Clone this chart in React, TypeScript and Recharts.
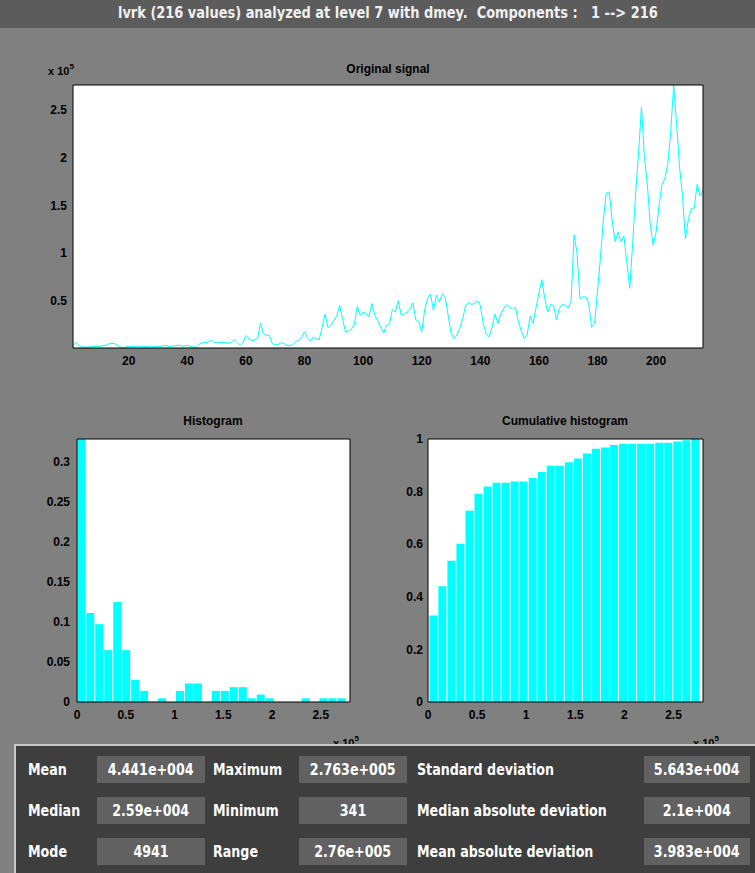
import React from 'react'
import { LineChart, Line, BarChart, Bar, XAxis, YAxis } from 'recharts'

// lvrk signal, 216 samples, in thousands
const SIGNAL_K = [
  3, 6, 3, 1.5, 1.2, 1.5, 1.5, 2, 2, 2,
  2.5, 3, 4.5, 5, 5, 3.5, 1.5, 0.341, 1.5, 2,
  2, 2, 2.5, 2, 2, 1.5, 2.5, 2, 1.5, 2,
  2, 3, 2.5, 2, 2.5, 2.5, 3.5, 2.5, 2.5, 3,
  2, 1.5, 1, 4, 6, 6, 6.5, 8.4, 6.5, 6,
  6, 6, 6, 5, 6.5, 9, 6, 3, 6, 13.6,
  10, 8, 9, 11, 26.5, 15, 14, 13.5, 5, 3.5,
  4, 6, 5, 3, 3, 4, 7, 8.5, 11, 17.5,
  11, 7.5, 11.5, 10, 9, 22, 35.7, 22, 24, 29,
  34, 45, 31, 17, 18, 20, 25, 44, 35, 38,
  36, 33, 47, 35, 29, 22, 16, 24, 25.6, 40.6,
  38, 50, 35, 36, 38, 41, 47.5, 30, 28, 17,
  40, 52, 57, 40, 55.6, 48.6, 57, 54, 35, 16,
  10, 14, 21, 31, 45, 48, 46, 47, 50, 45,
  26, 15, 12, 22, 36, 26, 36, 42, 46, 43,
  41, 43, 28, 18, 10, 14, 34, 26, 42, 58,
  72, 52, 38, 46, 45, 30, 42, 46, 45, 42,
  50, 119, 100, 52, 54, 54, 47, 22, 26, 60,
  95, 135, 163, 164, 134, 112, 122, 112, 118, 90,
  63, 110, 162, 204, 253, 201, 172, 130, 108, 122,
  150, 172, 178, 194, 228, 276.3, 235, 190, 160, 115,
  135, 147, 147, 172, 160, 166,
]

const N_VALUES = 216
const SIGNAL_MIN = 341
const SIGNAL_MAX = 276300
const N_BINS = 30

// counts per bin (30 bins between min and max)
const HIST_COUNTS = [71, 24, 21, 14, 27, 14, 6, 3, 0, 1, 0, 3, 5, 5, 0, 3, 3, 4, 4, 1, 2, 1, 0, 0, 0, 1, 0, 1, 1, 1]
const CUM_COUNTS = [71, 95, 116, 130, 157, 171, 177, 180, 180, 181, 181, 184, 189, 194, 194, 197, 200, 204, 208, 209, 211, 212, 212, 212, 212, 213, 213, 214, 215, 216]

const SIGNAL_X_TICKS = [20, 40, 60, 80, 100, 120, 140, 160, 180, 200]
const SIGNAL_Y_TICKS = [50000, 100000, 150000, 200000, 250000]
const HIST_X_TICKS = [0, 50000, 100000, 150000, 200000, 250000]
const HIST_Y_TICKS = [0, 0.05, 0.1, 0.15, 0.2, 0.25, 0.3]
const CUM_Y_TICKS = [0, 0.2, 0.4, 0.6, 0.8, 1]

const STAT_LABELS = [
  ['Mean', 'Maximum', 'Standard deviation'],
  ['Median', 'Minimum', 'Median absolute deviation'],
  ['Mode', 'Range', 'Mean absolute deviation'],
]
const STAT_VALUES = [
  ['4.441e+004', '2.763e+005', '5.643e+004'],
  ['2.59e+004', '341', '2.1e+004'],
  ['4941', '2.76e+005', '3.983e+004'],
]

const TITLE = 'lvrk (216 values) analyzed at level 7 with dmey.  Components :   1 --> 216'

const signalData = SIGNAL_K.map((v, i) => ({ n: i + 1, value: v * 1000 }))
const binWidth = (SIGNAL_MAX - SIGNAL_MIN) / N_BINS
const histData = HIST_COUNTS.map((c, k) => ({
  center: SIGNAL_MIN + (k + 0.5) * binWidth,
  freq: c / N_VALUES,
  cum: CUM_COUNTS[k] / N_VALUES,
}))

const CYAN = '#00ffff'
const NARROW = '"Liberation Sans Narrow", "DejaVu Sans Condensed", "Liberation Sans", sans-serif'
const tickFont = { fill: '#000', fontSize: 12, fontWeight: 700, fontFamily: '"Liberation Sans", Arial, sans-serif' }
const e5 = (v: number) => String(v / 1e5)
const black = { stroke: '#000', strokeWidth: 1 }

const abs = (left: number, top: number, extra: React.CSSProperties = {}): React.CSSProperties => ({
  position: 'absolute', left, top, ...extra,
})

// condensed bold text used by the title strip and the statistics panel
function Narrow({ children, origin, sx = 0.88 }: { children: React.ReactNode; origin: string; sx?: number }) {
  return (
    <span style={{ display: 'inline-block', transform: `scaleX(${sx})`, transformOrigin: origin, fontFamily: NARROW, fontWeight: 700 }}>
      {children}
    </span>
  )
}

// white axes background sitting under the transparent svg
function PlotBg({ left, top, width, height }: { left: number; top: number; width: number; height: number }) {
  return <div style={abs(left, top, { width, height, background: '#fff' })} />
}

function Exp({ left, top }: { left: number; top: number }) {
  return (
    <div style={abs(left, top, { fontSize: 11, fontWeight: 700, fontFamily: tickFont.fontFamily, color: '#000', whiteSpace: 'nowrap' })}>
      x 10<sup style={{ fontSize: 8, verticalAlign: 6 }}>5</sup>
    </div>
  )
}

function AxTitle({ text, cx, top }: { text: string; cx: number; top: number }) {
  return (
    <div style={abs(cx - 100, top, { width: 200, textAlign: 'center', fontSize: 12, fontWeight: 700, fontFamily: tickFont.fontFamily, color: '#000' })}>
      {text}
    </div>
  )
}

export default function App() {
  return (
    <div style={{ position: 'absolute', left: 0, top: 0, width: 755, height: 873, background: '#808080', overflow: 'hidden' }}>
      {/* title strip */}
      <div style={abs(0, 0, { width: 755, height: 28, paddingLeft: 20, boxSizing: 'border-box', background: '#5c5c5c', color: '#f0f0f0', fontSize: 16, textAlign: 'center', lineHeight: '26px', whiteSpace: 'pre' })}>
        <Narrow origin="center" sx={0.9}>{TITLE}</Narrow>
      </div>

      <PlotBg left={73} top={85} width={630} height={263} />
      <PlotBg left={77} top={439} width={273} height={263} />
      <PlotBg left={428} top={439} width={275} height={263} />

      {/* original signal: thin default axes draw the box and inward ticks, "lbl" axes carry the labels */}
      <div style={abs(0, 0)}>
        <LineChart width={755} height={400} data={signalData} margin={{ top: 84, right: 51, bottom: 22, left: 0 }}>
          <XAxis xAxisId="lbl" dataKey="n" type="number" domain={[1, 216]} ticks={SIGNAL_X_TICKS} interval={0} height={29}
            tickSize={0} tickMargin={7} axisLine={false} tickLine={false} tick={tickFont} allowDataOverflow />
          <XAxis dataKey="n" type="number" domain={[1, 216]} ticks={SIGNAL_X_TICKS} interval={0} height={1}
            tickSize={-5} axisLine={black} tickLine={black} tick={false} allowDataOverflow />
          <XAxis xAxisId="top" orientation="top" type="number" domain={[1, 216]} ticks={SIGNAL_X_TICKS} interval={0} height={1}
            tickSize={-5} axisLine={black} tickLine={black} tick={false} allowDataOverflow />
          <YAxis yAxisId="lbl" type="number" domain={[SIGNAL_MIN, SIGNAL_MAX]} ticks={SIGNAL_Y_TICKS} interval={0} width={72}
            tickSize={0} tickMargin={5} axisLine={false} tickLine={false} tick={tickFont} tickFormatter={e5} allowDataOverflow />
          <YAxis type="number" domain={[SIGNAL_MIN, SIGNAL_MAX]} ticks={SIGNAL_Y_TICKS} interval={0} width={1}
            tickSize={-5} axisLine={black} tickLine={black} tick={false} allowDataOverflow />
          <YAxis yAxisId="right" orientation="right" type="number" domain={[SIGNAL_MIN, SIGNAL_MAX]} ticks={SIGNAL_Y_TICKS} interval={0} width={1}
            tickSize={-5} axisLine={black} tickLine={black} tick={false} allowDataOverflow />
          <Line dataKey="value" stroke={CYAN} strokeWidth={1} dot={false} type="linear" isAnimationActive={false} />
        </LineChart>
      </div>
      <Exp left={48} top={62} />
      <AxTitle text="Original signal" cx={388} top={62} />

      {/* histogram */}
      <div style={abs(0, 400)}>
        <BarChart width={380} height={340} data={histData} margin={{ top: 38, right: 29, bottom: 8, left: 0 }}>
          <XAxis xAxisId="lbl" dataKey="center" type="number" domain={[0, 280000]} ticks={HIST_X_TICKS} interval={0} height={29}
            tickSize={0} tickMargin={7} axisLine={false} tickLine={false} tick={tickFont} tickFormatter={e5} allowDataOverflow />
          <XAxis dataKey="center" type="number" domain={[0, 280000]} ticks={HIST_X_TICKS} interval={0} height={1}
            tickSize={-5} axisLine={black} tickLine={black} tick={false} allowDataOverflow />
          <XAxis xAxisId="top" orientation="top" type="number" domain={[0, 280000]} ticks={HIST_X_TICKS} interval={0} height={1}
            tickSize={-5} axisLine={black} tickLine={black} tick={false} allowDataOverflow />
          <YAxis yAxisId="lbl" type="number" domain={[0, 71 / 216]} ticks={HIST_Y_TICKS} interval={0} width={76}
            tickSize={0} tickMargin={6} axisLine={false} tickLine={false} tick={tickFont} allowDataOverflow />
          <YAxis type="number" domain={[0, 71 / 216]} ticks={HIST_Y_TICKS} interval={0} width={1}
            tickSize={-5} axisLine={black} tickLine={black} tick={false} allowDataOverflow />
          <YAxis yAxisId="right" orientation="right" type="number" domain={[0, 71 / 216]} ticks={HIST_Y_TICKS} interval={0} width={1}
            tickSize={-5} axisLine={black} tickLine={black} tick={false} allowDataOverflow />
          <Bar dataKey="freq" fill={CYAN} barSize={8} isAnimationActive={false} />
        </BarChart>
      </div>
      <AxTitle text="Histogram" cx={213} top={414} />
      <Exp left={333} top={734} />

      {/* cumulative histogram */}
      <div style={abs(380, 400)}>
        <BarChart width={375} height={340} data={histData} margin={{ top: 38, right: 51, bottom: 8, left: 0 }}>
          <XAxis xAxisId="lbl" dataKey="center" type="number" domain={[0, 280000]} ticks={HIST_X_TICKS} interval={0} height={29}
            tickSize={0} tickMargin={7} axisLine={false} tickLine={false} tick={tickFont} tickFormatter={e5} allowDataOverflow />
          <XAxis dataKey="center" type="number" domain={[0, 280000]} ticks={HIST_X_TICKS} interval={0} height={1}
            tickSize={-5} axisLine={black} tickLine={black} tick={false} allowDataOverflow />
          <XAxis xAxisId="top" orientation="top" type="number" domain={[0, 280000]} ticks={HIST_X_TICKS} interval={0} height={1}
            tickSize={-5} axisLine={black} tickLine={black} tick={false} allowDataOverflow />
          <YAxis yAxisId="lbl" type="number" domain={[0, 1]} ticks={CUM_Y_TICKS} interval={0} width={47}
            tickSize={0} tickMargin={4} axisLine={false} tickLine={false} tick={tickFont} allowDataOverflow />
          <YAxis type="number" domain={[0, 1]} ticks={CUM_Y_TICKS} interval={0} width={1}
            tickSize={-5} axisLine={black} tickLine={black} tick={false} allowDataOverflow />
          <YAxis yAxisId="right" orientation="right" type="number" domain={[0, 1]} ticks={CUM_Y_TICKS} interval={0} width={1}
            tickSize={-5} axisLine={black} tickLine={black} tick={false} allowDataOverflow />
          <Bar dataKey="cum" fill={CYAN} barSize={8} isAnimationActive={false} />
        </BarChart>
      </div>
      <AxTitle text="Cumulative histogram" cx={565} top={414} />
      <Exp left={693} top={734} />

      {/* statistics panel */}
      <div style={abs(14, 744, { width: 760, height: 140, background: '#3e3e3e', borderTop: '2px solid #c8c8c8', borderLeft: '2px solid #c8c8c8', boxSizing: 'border-box' })} />
      {STAT_LABELS.map((row, r) => {
        const top = 756 + r * 41
        const labelX = [28, 213, 417]
        const boxX = [97, 299, 644]
        const boxW = [108, 108, 106]
        return (
          <React.Fragment key={r}>
            {row.map((lbl, c) => (
              <React.Fragment key={c}>
                <div style={abs(labelX[c], top, { height: 27, lineHeight: '27px', color: '#fff', fontSize: 16, whiteSpace: 'nowrap' })}>
                  <Narrow origin="left center">{lbl}</Narrow>
                </div>
                <div style={abs(boxX[c], top, { width: boxW[c], height: 27, lineHeight: '27px', background: '#616161', color: '#fff', textAlign: 'center', fontSize: 16, whiteSpace: 'nowrap' })}>
                  <Narrow origin="center">{STAT_VALUES[r][c]}</Narrow>
                </div>
              </React.Fragment>
            ))}
          </React.Fragment>
        )
      })}
    </div>
  )
}
